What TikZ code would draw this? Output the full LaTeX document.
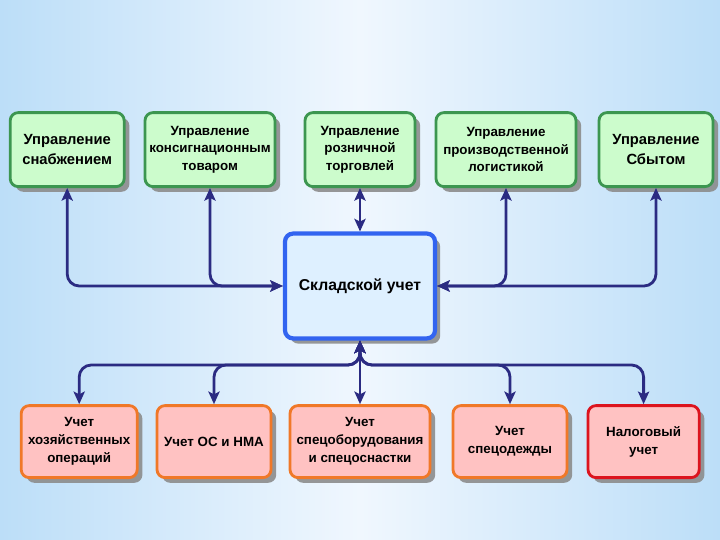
\documentclass[tikz,border=0pt]{standalone}
\usepackage{fontspec}
\setmainfont{Liberation Sans}
\usetikzlibrary{positioning,calc,shadows,arrows.meta}

\definecolor{bgedge}{RGB}{188,222,248}
\definecolor{bgmid}{RGB}{240,247,254}
\definecolor{grfill}{RGB}{204,252,204}
\definecolor{grline}{RGB}{60,150,80}
\definecolor{blfill}{RGB}{222,240,255}
\definecolor{blline}{RGB}{50,100,240}
\definecolor{pkfill}{RGB}{255,194,194}
\definecolor{orline}{RGB}{240,120,40}
\definecolor{rdline}{RGB}{220,20,30}
\definecolor{conncol}{RGB}{43,43,130}

\begin{document}
\begin{tikzpicture}[
   upr/.style={draw=grline,fill=grfill,line width=2pt,rounded corners=0.2cm,inner sep=0pt,
      minimum height=1.85cm,drop shadow={shadow xshift=0.13cm,shadow yshift=-0.13cm,fill=gray!90,opacity=0.9}},
   uchet/.style={upr,draw=orline,fill=pkfill,minimum height=1.8cm},
   conn/.style={draw=conncol,line width=2pt,rounded corners=0.3cm,
      {Stealth[length=9pt,width=8pt,inset=2pt]}-{Stealth[length=9pt,width=8pt,inset=2pt]}}
]

   \fill[left color=bgedge,right color=bgedge,middle color=bgmid] (0,0) rectangle (18,13.5);
   \useasboundingbox (0,0) rectangle (18,13.5);

   % top row
   \node[upr,minimum width=2.85cm] at (1.68,9.76) (snab) {\parbox{2.7cm}{\centering\fontsize{10.5}{14}\selectfont\bfseries Управление\\ снабжением}};
   \node[upr,minimum width=3.25cm] at (5.25,9.76) (kons) {\parbox{3.2cm}{\centering\fontsize{9.5}{12.5}\selectfont\bfseries Управление\\ консигнационным\\ товаром}};
   \node[upr,minimum width=2.75cm] at (9,9.76) (rozn) {\parbox{2.7cm}{\centering\fontsize{9.5}{12.5}\selectfont\bfseries Управление\\ розничной\\ торговлей}};
   \node[upr,minimum width=3.5cm] at (12.65,9.76) (proizv) {\parbox{3.45cm}{\centering\fontsize{9.5}{12.5}\selectfont\bfseries Управление\\ производственной\\ логистикой}};
   \node[upr,minimum width=2.85cm] at (16.4,9.76) (sbyt) {\parbox{2.7cm}{\centering\fontsize{10.5}{14}\selectfont\bfseries Управление\\ Сбытом}};

   % center
   \node[upr,draw=blline,fill=blfill,line width=3pt,minimum width=3.75cm,minimum height=2.62cm] at (9,6.35) (sklad) {\parbox{3.6cm}{\centering\fontsize{11.2}{14}\selectfont\bfseries Складской учет}};

   % bottom row
   \node[uchet,minimum width=2.9cm] at (1.98,2.46) (hoz) {\parbox{2.85cm}{\centering\fontsize{9.5}{12.8}\selectfont\bfseries Учет\\ хозяйственных\\ операций}};
   \node[uchet,minimum width=2.85cm] at (5.35,2.46) (osnma) {\parbox{2.8cm}{\centering\fontsize{9.5}{12.8}\selectfont\bfseries Учет ОС и НМА}};
   \node[uchet,minimum width=3.5cm] at (9,2.46) (specob) {\parbox{3.45cm}{\centering\fontsize{9.5}{12.8}\selectfont\bfseries Учет\\ спецоборудования\\ и спецоснастки}};
   \node[uchet,minimum width=2.85cm] at (12.75,2.46) (specod) {\parbox{2.8cm}{\centering\fontsize{9.5}{12.8}\selectfont\bfseries Учет\\ спецодежды}};
   \node[uchet,draw=rdline,minimum width=2.78cm] at (16.09,2.46) (nalog) {\parbox{2.7cm}{\centering\fontsize{9.5}{12.8}\selectfont\bfseries Налоговый\\ учет}};

   \coordinate (bus) at (9,4.375);

   \draw[conn] (snab.south) |- (sklad.west);
   \draw[conn] (kons.south) |- (sklad.west);
   \draw[conn] (rozn.south) -- (sklad.north);
   \draw[conn] (proizv.south) |- (sklad.east);
   \draw[conn] (sbyt.south) |- (sklad.east);

   \draw[conn] (sklad.south) -- (bus) -| (hoz.north);
   \draw[conn] (sklad.south) -- (bus) -| (osnma.north);
   \draw[conn] (sklad.south) -- (specob.north);
   \draw[conn] (sklad.south) -- (bus) -| (specod.north);
   \draw[conn] (sklad.south) -- (bus) -| (nalog.north);
\end{tikzpicture}
\end{document}
